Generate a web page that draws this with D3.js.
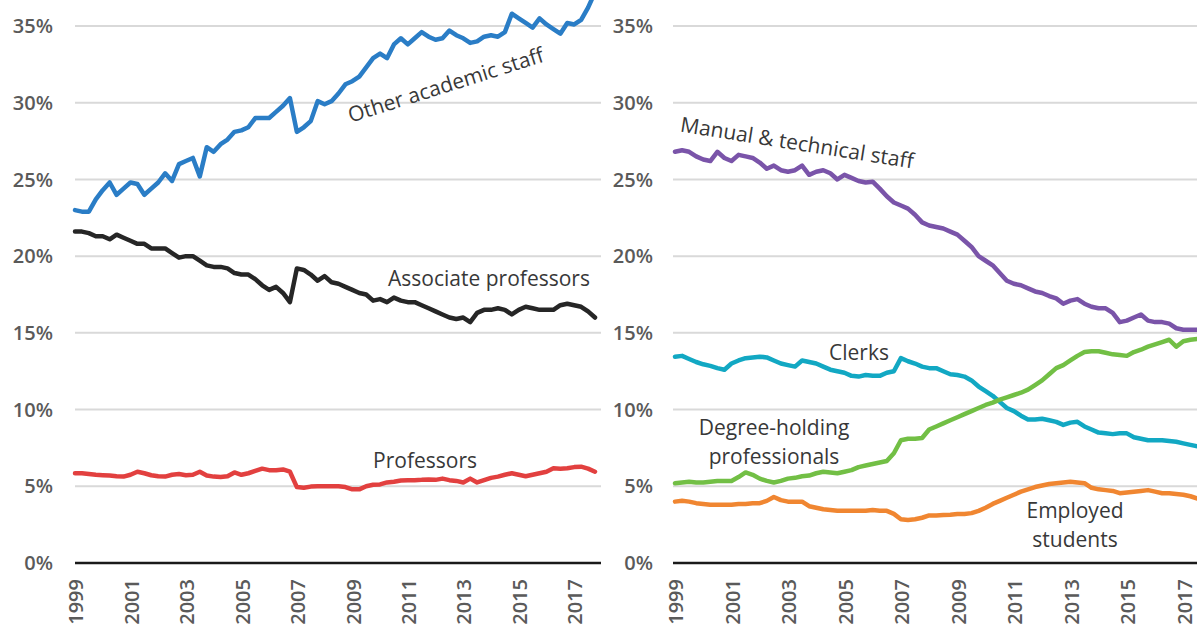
<!DOCTYPE html>
<html>
<head>
<meta charset="utf-8">
<script src="https://cdn.jsdelivr.net/npm/d3@7"></script>
<style>
  html, body { margin: 0; padding: 0; background: #fff; }
  svg { display: block; font-family: "Open Sans", sans-serif; }
</style>
</head>
<body>
<div id="chart"></div>
<script>
// quarterly shares, 1999 Q1 .. 2017 Q4
const quarters = d3.range(76).map(i => 1999 + i / 4);
const tickYears = [1999, 2001, 2003, 2005, 2007, 2009, 2011, 2013, 2015, 2017];
const yTicks = [0, 5, 10, 15, 20, 25, 30, 35];

const otherAcademic = [23.0, 22.9, 22.9, 23.7, 24.3, 24.8, 24.0, 24.4, 24.8, 24.7, 24.0, 24.4, 24.8, 25.4, 24.9, 26.0,
  26.2, 26.4, 25.2, 27.1, 26.8, 27.3, 27.6, 28.1, 28.2, 28.4, 29.0, 29.0, 29.0, 29.4, 29.8, 30.3,
  28.1, 28.4, 28.8, 30.1, 29.9, 30.1, 30.6, 31.2, 31.4, 31.7, 32.3, 32.9, 33.2, 32.9, 33.8, 34.2,
  33.8, 34.2, 34.6, 34.3, 34.1, 34.2, 34.7, 34.4, 34.2, 33.9, 34.0, 34.3, 34.4, 34.3, 34.6, 35.8,
  35.5, 35.2, 34.9, 35.5, 35.1, 34.8, 34.5, 35.2, 35.1, 35.4, 36.2, 37.2];
const associateProf = [21.6, 21.6, 21.5, 21.3, 21.3, 21.1, 21.4, 21.2, 21.0, 20.8, 20.8, 20.5, 20.5, 20.5, 20.2, 19.9,
  20.0, 20.0, 19.7, 19.4, 19.3, 19.3, 19.2, 18.9, 18.8, 18.8, 18.5, 18.1, 17.8, 18.0, 17.6, 17.0,
  19.2, 19.1, 18.8, 18.4, 18.7, 18.3, 18.2, 18.0, 17.8, 17.6, 17.5, 17.1, 17.2, 17.0, 17.3, 17.1,
  17.0, 17.0, 16.8, 16.6, 16.4, 16.2, 16.0, 15.9, 16.0, 15.7, 16.3, 16.5, 16.5, 16.6, 16.5, 16.2,
  16.5, 16.7, 16.6, 16.5, 16.5, 16.5, 16.8, 16.9, 16.8, 16.7, 16.4, 16.0];
const professors = [5.85, 5.85, 5.8, 5.75, 5.72, 5.7, 5.65, 5.63, 5.75, 5.95, 5.85, 5.72, 5.65, 5.63, 5.75, 5.8,
  5.72, 5.75, 5.95, 5.7, 5.63, 5.6, 5.65, 5.9, 5.75, 5.85, 6.0, 6.15, 6.05, 6.05, 6.1, 5.95,
  4.95, 4.9, 4.98, 5.0, 5.0, 5.0, 5.0, 4.95, 4.8, 4.8, 5.0, 5.1, 5.12, 5.25, 5.3, 5.38,
  5.4, 5.4, 5.42, 5.45, 5.42, 5.5, 5.4, 5.35, 5.25, 5.5, 5.25, 5.4, 5.55, 5.63, 5.75, 5.85,
  5.75, 5.65, 5.75, 5.85, 5.95, 6.17, 6.15, 6.17, 6.25, 6.28, 6.15, 5.95];

const manualTech = [26.8, 26.9, 26.8, 26.5, 26.3, 26.2, 26.8, 26.4, 26.2, 26.6, 26.5, 26.4, 26.1, 25.7, 25.9, 25.6,
  25.5, 25.6, 25.9, 25.3, 25.5, 25.6, 25.4, 25.0, 25.3, 25.1, 24.9, 24.8, 24.85, 24.4, 23.9, 23.5,
  23.3, 23.1, 22.7, 22.2, 22.0, 21.9, 21.8, 21.6, 21.4, 21.0, 20.6, 20.0, 19.7, 19.4, 18.9, 18.4,
  18.2, 18.1, 17.9, 17.7, 17.6, 17.4, 17.25, 16.9, 17.1, 17.2, 16.9, 16.7, 16.6, 16.6, 16.3, 15.7,
  15.8, 16.0, 16.2, 15.8, 15.7, 15.7, 15.6, 15.3, 15.2, 15.2, 15.2, 15.1];
const clerks = [13.45, 13.5, 13.3, 13.1, 12.95, 12.85, 12.7, 12.6, 13.0, 13.2, 13.35, 13.4, 13.45, 13.4, 13.2, 13.0,
  12.9, 12.8, 13.2, 13.1, 13.0, 12.8, 12.6, 12.5, 12.4, 12.2, 12.15, 12.25, 12.2, 12.2, 12.4, 12.5,
  13.35, 13.15, 13.0, 12.8, 12.7, 12.7, 12.5, 12.3, 12.25, 12.15, 11.9, 11.5, 11.2, 10.9, 10.5, 10.1,
  9.9, 9.6, 9.35, 9.35, 9.4, 9.3, 9.2, 9.0, 9.15, 9.2, 8.9, 8.7, 8.5, 8.45, 8.4, 8.45,
  8.45, 8.2, 8.1, 8.0, 8.0, 8.0, 7.95, 7.9, 7.8, 7.7, 7.6, 7.5];
const degreeHolding = [5.2, 5.25, 5.3, 5.25, 5.25, 5.3, 5.35, 5.35, 5.35, 5.6, 5.9, 5.75, 5.5, 5.35, 5.25, 5.35,
  5.5, 5.55, 5.65, 5.7, 5.85, 5.95, 5.9, 5.85, 5.95, 6.05, 6.25, 6.35, 6.45, 6.55, 6.65, 7.15,
  8.0, 8.1, 8.1, 8.15, 8.7, 8.9, 9.1, 9.3, 9.5, 9.7, 9.9, 10.1, 10.3, 10.45, 10.65, 10.8,
  10.95, 11.1, 11.3, 11.6, 11.9, 12.3, 12.7, 12.9, 13.2, 13.5, 13.75, 13.8, 13.8, 13.7, 13.6, 13.55,
  13.5, 13.75, 13.9, 14.1, 14.25, 14.4, 14.55, 14.1, 14.45, 14.55, 14.6, 14.65];
const employedStudents = [4.0, 4.05, 4.0, 3.9, 3.85, 3.8, 3.8, 3.8, 3.8, 3.85, 3.85, 3.9, 3.9, 4.05, 4.3, 4.1,
  4.0, 4.0, 4.0, 3.7, 3.6, 3.5, 3.45, 3.4, 3.4, 3.4, 3.4, 3.4, 3.45, 3.4, 3.4, 3.2,
  2.85, 2.8, 2.85, 2.95, 3.1, 3.1, 3.13, 3.15, 3.2, 3.2, 3.25, 3.4, 3.6, 3.85, 4.05, 4.25,
  4.45, 4.65, 4.8, 4.95, 5.05, 5.15, 5.2, 5.25, 5.3, 5.25, 5.2, 4.9, 4.8, 4.75, 4.7, 4.55,
  4.6, 4.65, 4.7, 4.75, 4.65, 4.55, 4.55, 4.5, 4.45, 4.35, 4.2, 4.15];

const W = 1197, H = 629;

const svg = d3.select("#chart")
  .append("svg")
  .attr("width", W)
  .attr("height", H);

const y = d3.scaleLinear().domain([0, 35]).range([563, 26]);

const panels = [
  {
    x: d3.scaleLinear().domain([1999, 2017.75]).range([75, 595]),
    gridFrom: 75, gridTo: 601, labelX: 53,
    series: [
      { values: otherAcademic, color: "#2a7dc6" },
      { values: associateProf, color: "#262626" },
      { values: professors, color: "#e2403f" }
    ]
  },
  {
    x: d3.scaleLinear().domain([1999, 2017.75]).range([675, 1204.5]),
    gridFrom: 673, gridTo: 1197, labelX: 653,
    series: [
      { values: manualTech, color: "#7a54a9" },
      { values: clerks, color: "#12a8c3" },
      { values: degreeHolding, color: "#72bf45" },
      { values: employedStudents, color: "#f08631" }
    ]
  }
];

panels.forEach(p => {
  const g = svg.append("g");

  // gridlines
  g.selectAll(".grid")
    .data(yTicks.filter(d => d > 0))
    .enter()
    .append("line")
    .attr("x1", p.gridFrom)
    .attr("x2", p.gridTo)
    .attr("y1", d => y(d))
    .attr("y2", d => y(d))
    .attr("stroke", "#d9d9d9")
    .attr("stroke-width", 2);

  // baseline
  g.append("line")
    .attr("x1", p.gridFrom)
    .attr("x2", p.gridTo)
    .attr("y1", y(0))
    .attr("y2", y(0))
    .attr("stroke", "#1a1a1a")
    .attr("stroke-width", 2.5);

  // y tick labels
  g.selectAll(".ylab")
    .data(yTicks)
    .enter()
    .append("text")
    .attr("x", p.labelX)
    .attr("y", d => y(d))
    .attr("dy", "0.36em")
    .attr("text-anchor", "end")
    .style("font-size", "20px")
    .style("font-weight", "600")
    .style("fill", "#5a5a5a")
    .text(d => d + "%");

  // x tick labels, rotated
  g.selectAll(".xlab")
    .data(tickYears)
    .enter()
    .append("text")
    .attr("transform", d => `translate(${p.x(d) + 1}, 579) rotate(-90)`)
    .attr("dy", "0.36em")
    .attr("text-anchor", "end")
    .style("font-size", "20px")
    .style("font-weight", "600")
    .style("fill", "#5a5a5a")
    .text(d => d);

  // series lines
  const line = d3.line()
    .x((d, i) => p.x(quarters[i]))
    .y(d => y(d));

  p.series.forEach(s => {
    g.append("path")
      .datum(s.values)
      .attr("fill", "none")
      .attr("stroke", s.color)
      .attr("stroke-width", 4.5)
      .attr("stroke-linejoin", "round")
      .attr("stroke-linecap", "round")
      .attr("d", line);
  });
});

// line labels
const labels = [
  { text: ["Other academic staff"], x: 448, y: 92, rot: -17.5 },
  { text: ["Associate professors"], x: 489, y: 286, rot: 0 },
  { text: ["Professors"], x: 425, y: 468, rot: 0 },
  { text: ["Manual & technical staff"], x: 796, y: 150, rot: 9 },
  { text: ["Clerks"], x: 859, y: 360, rot: 0 },
  { text: ["Degree-holding", "professionals"], x: 774, y: 435, rot: 0 },
  { text: ["Employed", "students"], x: 1075, y: 518, rot: 0 }
];

labels.forEach(l => {
  const t = svg.append("text")
    .attr("transform", `translate(${l.x}, ${l.y}) rotate(${l.rot})`)
    .attr("text-anchor", "middle")
    .style("font-size", "21px")
    .style("fill", "#383838");
  l.text.forEach((s, k) => {
    t.append("tspan")
      .attr("x", 0)
      .attr("y", k * 29)
      .text(s);
  });
});
</script>
</body>
</html>
